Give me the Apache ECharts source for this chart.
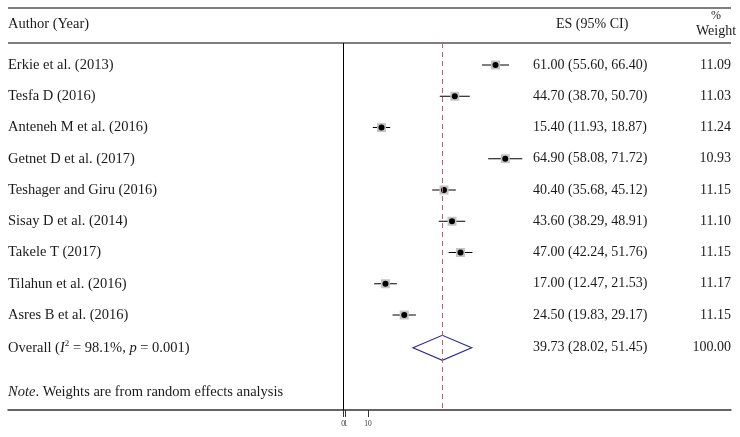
<!DOCTYPE html>
<html>
<head>
<meta charset="utf-8">
<script src="https://cdn.jsdelivr.net/npm/echarts@6/dist/echarts.min.js"></script>
<style>
html,body{margin:0;padding:0;background:#fff;}
#chart{width:740px;height:437px;}
</style>
</head>
<body>
<div id="chart"></div>
<script>
// ---- data ----
const authors = [
  'Erkie et al. (2013)', 'Tesfa D (2016)', 'Anteneh M et al. (2016)',
  'Getnet D et al. (2017)', 'Teshager and Giru (2016)', 'Sisay D et al. (2014)',
  'Takele T (2017)', 'Tilahun et al. (2016)', 'Asres B et al. (2016)'
];
const es = [61.00, 44.70, 15.40, 64.90, 40.40, 43.60, 47.00, 17.00, 24.50];
const ciLow = [55.60, 38.70, 11.93, 58.08, 35.68, 38.29, 42.24, 12.47, 19.83];
const ciHigh = [66.40, 50.70, 18.87, 71.72, 45.12, 48.91, 51.76, 21.53, 29.17];
const weights = [11.09, 11.03, 11.24, 10.93, 11.15, 11.10, 11.15, 11.17, 11.15];
const overallES = 39.73;
const overallLow = 28.02;
const overallHigh = 51.45;
const overallWeight = 100.00;
const overallI2 = '98.1%';
const overallP = '0.001';
const noteText = 'Weights are from random effects analysis';
const tickValues = [0, 1, 10];
const tickLabels = ['0', '1', '10'];

// ---- layout helpers ----
const FONT = 'Liberation Serif';
const n = authors.length;
const rowPos = authors.map((_, i) => i);
const overallPos = n + 0.05;
const notePos = n + 1.46;
const labelPos = rowPos.concat([overallPos, notePos]);

const fmt = v => v.toFixed(2);
const esText = es.map((v, i) => fmt(v) + ' (' + fmt(ciLow[i]) + ', ' + fmt(ciHigh[i]) + ')')
  .concat([fmt(overallES) + ' (' + fmt(overallLow) + ', ' + fmt(overallHigh) + ')', '']);
const wText = weights.map(fmt).concat([fmt(overallWeight), '']);
const authorText = authors.concat([
  '{n|Overall (}{i|I}{sup|2}{n| = ' + overallI2 + ', }{i|p}{n| = ' + overallP + ')}',
  '{i|Note}{n|. ' + noteText + '}'
]);
const idx = v => labelPos.findIndex(p => Math.abs(p - v) < 1e-6);
const tickLabel = v => tickLabels[tickValues.indexOf(v)];
// alternate tick labels between two axes so that adjacent labels are not hidden
const labelSetA = tickValues.filter((_, i) => i % 2 === 0);
const labelSetB = tickValues.filter((_, i) => i % 2 === 1);

const yBase = {type: 'value', inverse: true, min: -0.704, max: 11.04,
  splitLine: {show: false}, axisLine: {show: false}, axisTick: {show: false}};
const xBase = {type: 'value', min: -134, max: 155.2, position: 'bottom', splitLine: {show: false}};
const xLabelStyle = {show: true, fontSize: 7.5, color: '#333', margin: 10, hideOverlap: false,
  fontFamily: FONT, formatter: tickLabel};

const chart = echarts.init(document.getElementById('chart'), null, {renderer: 'canvas'});
chart.setOption({
  animation: false,
  backgroundColor: '#fff',
  textStyle: {fontFamily: FONT},
  grid: {left: 8, right: 9, top: 43, bottom: 27, containLabel: false},
  xAxis: [
    Object.assign({}, xBase, {
      axisLine: {show: true, onZero: false, lineStyle: {color: '#333', width: 1.5}},
      axisTick: {show: true, customValues: tickValues, length: 7, lineStyle: {color: '#333', width: 1}},
      axisLabel: Object.assign({customValues: labelSetA}, xLabelStyle)
    }),
    Object.assign({}, xBase, {
      axisLine: {show: false, onZero: false},
      axisTick: {show: false},
      axisLabel: Object.assign({customValues: labelSetB}, xLabelStyle)
    })
  ],
  yAxis: [
    Object.assign({}, yBase, {position: 'left', axisLabel: {
      show: true, customValues: labelPos, margin: 0, align: 'left', fontFamily: FONT,
      fontSize: 14.5, color: '#1a1a1a',
      formatter: v => authorText[idx(v)],
      rich: {
        n: {fontSize: 14.5, fontFamily: FONT, color: '#1a1a1a'},
        i: {fontSize: 14.5, fontFamily: FONT, fontStyle: 'italic', color: '#1a1a1a'},
        sup: {fontSize: 9, fontFamily: FONT, color: '#1a1a1a', padding: [0, 0, 8, 0]}
      }
    }}),
    Object.assign({}, yBase, {position: 'right', offset: -198, axisLabel: {
      show: true, customValues: labelPos, margin: 0, align: 'left', fontFamily: FONT,
      fontSize: 14, color: '#1a1a1a', formatter: v => esText[idx(v)]
    }}),
    Object.assign({}, yBase, {position: 'right', offset: 0, axisLabel: {
      show: true, customValues: labelPos, margin: 0, align: 'right', fontFamily: FONT,
      fontSize: 14, color: '#1a1a1a', formatter: v => wText[idx(v)]
    }})
  ],
  graphic: [
    {type: 'line', shape: {x1: 8, y1: 8, x2: 731, y2: 8}, style: {stroke: '#555', lineWidth: 1.5}},
    {type: 'line', shape: {x1: 8, y1: 43, x2: 731, y2: 43}, style: {stroke: '#555', lineWidth: 1.5}},
    {type: 'text', left: 8, top: 17, style: {text: 'Author (Year)', font: '14.5px "' + FONT + '"', fill: '#1a1a1a'}},
    {type: 'text', left: 556, top: 17, style: {text: 'ES (95% CI)', font: '14px "' + FONT + '"', fill: '#1a1a1a'}},
    {type: 'text', x: 716, y: 16, style: {text: '%', font: '12px "' + FONT + '"', fill: '#1a1a1a', align: 'center', verticalAlign: 'middle'}},
    {type: 'text', x: 716, y: 31, style: {text: 'Weight', font: '14px "' + FONT + '"', fill: '#1a1a1a', align: 'center', verticalAlign: 'middle'}}
  ],
  series: [
    {
      type: 'custom', name: 'ci',
      data: es.map((v, i) => [ciLow[i], ciHigh[i], rowPos[i]]),
      renderItem: (params, api) => {
        const a = api.coord([api.value(0), api.value(2)]);
        const b = api.coord([api.value(1), api.value(2)]);
        return {type: 'line', shape: {x1: a[0], y1: a[1], x2: b[0], y2: b[1]},
          style: {stroke: '#000', lineWidth: 1}};
      },
      markLine: {
        silent: true, symbol: ['none', 'none'], label: {show: false},
        data: [
          {xAxis: 0, lineStyle: {color: '#000', width: 1, type: 'solid'}},
          {xAxis: overallES, lineStyle: {color: '#b86070', width: 1, type: [5, 4]}}
        ]
      }
    },
    {
      type: 'scatter', name: 'weight box', symbol: 'rect',
      data: es.map((v, i) => [v, rowPos[i], weights[i]]),
      symbolSize: d => 9 * Math.sqrt(d[2] / 11.1),
      itemStyle: {color: '#c4c4c4', opacity: 1}
    },
    {
      type: 'scatter', name: 'estimate', symbol: 'circle', symbolSize: 6,
      data: es.map((v, i) => [v, rowPos[i]]),
      itemStyle: {color: '#000', opacity: 1}
    },
    {
      type: 'custom', name: 'overall',
      data: [[overallLow, overallES, overallHigh, overallPos]],
      renderItem: (params, api) => {
        const y = api.value(3);
        const pts = [
          api.coord([api.value(0), y]),
          api.coord([api.value(1), y - 0.4]),
          api.coord([api.value(2), y]),
          api.coord([api.value(1), y + 0.4])
        ];
        return {type: 'polygon', shape: {points: pts},
          style: {fill: '#fff', stroke: '#2e2e86', lineWidth: 1.2}};
      }
    }
  ]
});
</script>
</body>
</html>
